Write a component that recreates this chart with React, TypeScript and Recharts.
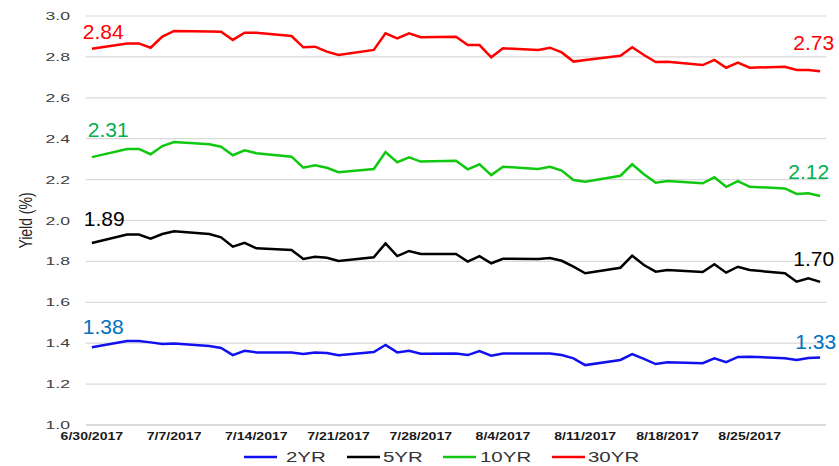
import React from 'react';
import { LineChart, Line, XAxis, YAxis, CartesianGrid, Legend, LabelList } from 'recharts';

const dates = [
  '6/30/2017', '7/3/2017', '7/4/2017', '7/5/2017', '7/6/2017', '7/7/2017',
  '7/10/2017', '7/11/2017', '7/12/2017', '7/13/2017', '7/14/2017',
  '7/17/2017', '7/18/2017', '7/19/2017', '7/20/2017', '7/21/2017',
  '7/24/2017', '7/25/2017', '7/26/2017', '7/27/2017', '7/28/2017',
  '7/31/2017', '8/1/2017', '8/2/2017', '8/3/2017', '8/4/2017',
  '8/7/2017', '8/8/2017', '8/9/2017', '8/10/2017', '8/11/2017',
  '8/14/2017', '8/15/2017', '8/16/2017', '8/17/2017', '8/18/2017',
  '8/21/2017', '8/22/2017', '8/23/2017', '8/24/2017', '8/25/2017',
  '8/28/2017', '8/29/2017', '8/30/2017', '8/31/2017',
];

const tickLabels = ['6/30/2017', '7/7/2017', '7/14/2017', '7/21/2017', '7/28/2017', '8/4/2017', '8/11/2017', '8/18/2017', '8/25/2017'];
const yTicks = [1.0, 1.2, 1.4, 1.6, 1.8, 2.0, 2.2, 2.4, 2.6, 2.8, 3.0];

const yr2 = [
  1.38, 1.411, 1.411, 1.404, 1.396, 1.399,
  1.386, 1.377, 1.342, 1.363, 1.355,
  1.355, 1.347, 1.355, 1.352, 1.341,
  1.357, 1.391, 1.355, 1.363, 1.349,
  1.35, 1.342, 1.362, 1.339, 1.35,
  1.35, 1.35, 1.342, 1.326, 1.293,
  1.318, 1.347, 1.323, 1.298, 1.307,
  1.302, 1.326, 1.307, 1.333, 1.334,
  1.326, 1.318, 1.328, 1.33,
];

const yr5 = [
  1.89, 1.931, 1.931, 1.911, 1.934, 1.947,
  1.934, 1.918, 1.872, 1.891, 1.864,
  1.856, 1.812, 1.823, 1.818, 1.802,
  1.82, 1.888, 1.826, 1.851, 1.836,
  1.836, 1.799, 1.826, 1.791, 1.813,
  1.812, 1.817, 1.803, 1.774, 1.742,
  1.769, 1.828, 1.782, 1.75, 1.758,
  1.748, 1.786, 1.745, 1.774, 1.758,
  1.742, 1.701, 1.717, 1.70,
];

const yr10 = [
  2.31, 2.35, 2.35, 2.324, 2.364, 2.384,
  2.373, 2.361, 2.319, 2.343, 2.329,
  2.312, 2.258, 2.27, 2.258, 2.236,
  2.252, 2.335, 2.285, 2.309, 2.288,
  2.292, 2.25, 2.275, 2.222, 2.263,
  2.252, 2.263, 2.244, 2.198, 2.19,
  2.219, 2.275, 2.226, 2.185, 2.193,
  2.182, 2.211, 2.165, 2.193, 2.165,
  2.157, 2.13, 2.133, 2.12,
];

const yr30 = [
  2.84, 2.866, 2.866, 2.845, 2.899, 2.927,
  2.924, 2.923, 2.883, 2.918, 2.918,
  2.902, 2.847, 2.85, 2.826, 2.809,
  2.834, 2.915, 2.891, 2.915, 2.896,
  2.899, 2.858, 2.858, 2.798, 2.842,
  2.834, 2.845, 2.822, 2.777, 2.785,
  2.806, 2.847, 2.809, 2.775, 2.776,
  2.76, 2.785, 2.747, 2.772, 2.747,
  2.752, 2.736, 2.736, 2.73,
];

const toDay = (s: string) => {
  const [m, d, y] = s.split('/').map(Number);
  return Date.UTC(y, m - 1, d) / 86400000;
};

const data = dates.map((d, i) => ({
  day: toDay(d),
  date: d,
  yr2: yr2[i],
  yr5: yr5[i],
  yr10: yr10[i],
  yr30: yr30[i],
}));

const tickDays = tickLabels.map(toDay);
const labelByDay: Record<number, string> = {};
tickLabels.forEach((s) => { labelByDay[toDay(s)] = s; });
const firstDay = toDay(dates[0]);
const lastDay = toDay(dates[dates.length - 1]);
const N = dates.length;

type SeriesCfg = {
  key: string; name: string; color: string; labelColor: string;
  first: { dx: number; dy: number }; last: { dx: number; dy: number };
  legendX: number; textX: number;
};

const series: SeriesCfg[] = [
  { key: 'yr2', name: '2YR', color: '#1010F0', labelColor: '#0070C0', first: { dx: -9, dy: -13 }, last: { dx: 16, dy: -9 }, legendX: 244, textX: 286 },
  { key: 'yr5', name: '5YR', color: '#000000', labelColor: '#000000', first: { dx: -8, dy: -17 }, last: { dx: 14, dy: -16 }, legendX: 347, textX: 383 },
  { key: 'yr10', name: '10YR', color: '#10C810', labelColor: '#00B050', first: { dx: -4, dy: -20 }, last: { dx: 9, dy: -17 }, legendX: 443, textX: 480 },
  { key: 'yr30', name: '30YR', color: '#FF0000', labelColor: '#FF0000', first: { dx: -9, dy: -10 }, last: { dx: 14, dy: -21 }, legendX: 552, textX: 588 },
];

const FONT = 'Liberation Sans, Arial, sans-serif';

const YTick = (props: any) => {
  const { x, y, payload } = props;
  return (
    <g transform={`translate(${x},${y})`}>
      <text x={0} y={0} dy={4} textAnchor="end" fontSize={11} fill="#404040" fontFamily={FONT} transform="scale(1.6,1)">
        {Number(payload.value).toFixed(1)}
      </text>
    </g>
  );
};

const XTick = (props: any) => {
  const { x, y, payload } = props;
  return (
    <g transform={`translate(${x},${y})`}>
      <text x={0} y={0} dy={7} textAnchor="middle" fontSize={11} fontWeight="bold" fill="#1a1a1a" fontFamily={FONT} transform="scale(1.28,1)">
        {labelByDay[payload.value] ?? ''}
      </text>
    </g>
  );
};

const YLabel = (props: any) => {
  const vb = props.viewBox || { x: 0, y: 16, width: 86, height: 409 };
  const cy = vb.y + vb.height / 2;
  return (
    <text transform={`translate(26,${cy}) rotate(-90) scale(1,1.35)`} textAnchor="middle" dominantBaseline="central" fontSize={14} fill="#262626" fontFamily={FONT}>
      Yield (%)
    </text>
  );
};

const makeEndLabel = (cfg: SeriesCfg) => (props: any) => {
  const { x, y, index, value } = props;
  if (index !== 0 && index !== N - 1) return null;
  const isFirst = index === 0;
  const off = isFirst ? cfg.first : cfg.last;
  return (
    <text x={x + off.dx} y={y + off.dy} textAnchor={isFirst ? 'start' : 'end'} fontSize={21} fill={cfg.labelColor} fontFamily={FONT}>
      {Number(value).toFixed(2)}
    </text>
  );
};

const renderLegend = () => (
  <svg width={839} height={24} style={{ display: 'block', overflow: 'visible' }}>
    {series.map((s) => (
      <g key={s.key}>
        <line x1={s.legendX} x2={s.legendX + 33} y1={15} y2={15} stroke={s.color} strokeWidth={2.5} />
        <text transform={`translate(${s.textX},20) scale(1.32,1)`} fontSize={15.5} fill="#333333" fontFamily={FONT}>
          {s.name}
        </text>
      </g>
    ))}
  </svg>
);

export default function App() {
  return (
    <div style={{ position: 'absolute', left: 0, top: 0, width: 839, height: 466, background: '#ffffff' }}>
      <LineChart width={839} height={466} data={data} margin={{ top: 16, right: 13, left: 0, bottom: 0 }}>
        <CartesianGrid vertical={false} stroke="#D9D9D9" strokeWidth={1.2} />
        <XAxis
          dataKey="day"
          type="number"
          domain={[firstDay - 0.5, lastDay + 0.5]}
          ticks={tickDays}
          interval={0}
          tickLine={false}
          axisLine={{ stroke: '#C8C8C8' }}
          height={17}
          tick={<XTick />}
          allowDataOverflow
        />
        <YAxis
          type="number"
          domain={[1, 3]}
          ticks={yTicks}
          interval={0}
          width={86}
          tickLine={false}
          axisLine={false}
          tickMargin={10}
          tick={<YTick />}
          label={<YLabel />}
        />
        <Legend verticalAlign="bottom" align="left" height={24} content={renderLegend} wrapperStyle={{ left: 0, width: 839 }} />
        {series.map((s) => (
          <Line
            key={s.key}
            type="linear"
            dataKey={s.key}
            name={s.name}
            stroke={s.color}
            strokeWidth={2.5}
            dot={false}
            activeDot={false}
            isAnimationActive={false}
          >
            <LabelList dataKey={s.key} content={makeEndLabel(s)} />
          </Line>
        ))}
      </LineChart>
    </div>
  );
}
